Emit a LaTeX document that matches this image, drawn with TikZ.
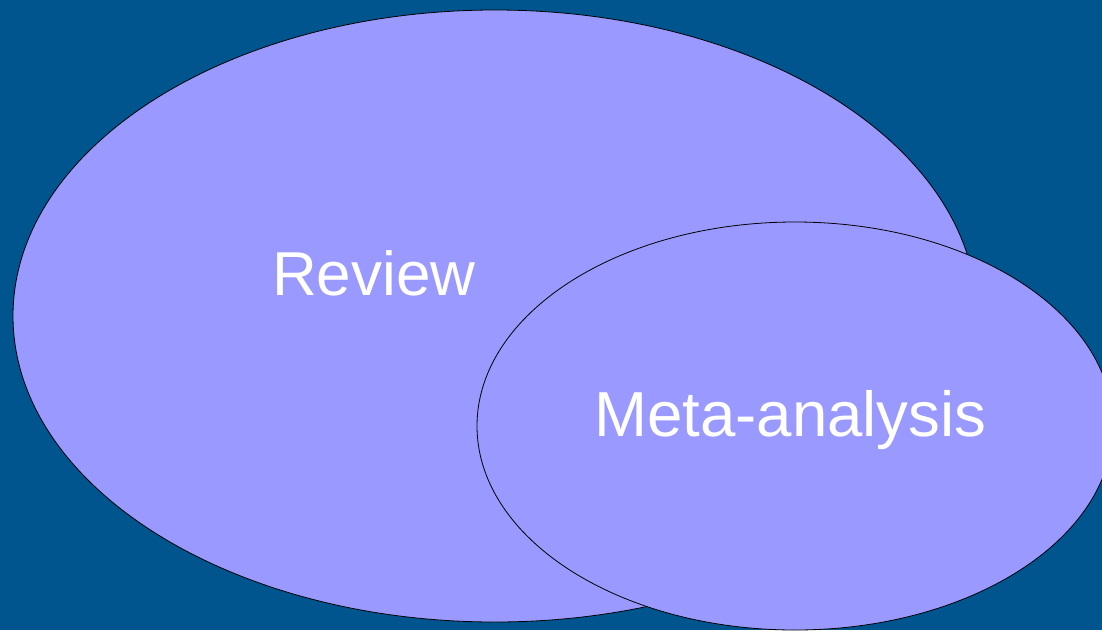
\documentclass[tikz,border=0pt]{standalone}
\usepackage{fontspec}
\setmainfont{Liberation Sans}
\definecolor{bgblue}{RGB}{0,85,143}
\definecolor{ellfill}{RGB}{153,153,255}
\begin{document}
\begin{tikzpicture}[x=1pt,y=-1pt,
  blob/.style={fill=ellfill,draw=black,line width=0.8pt},
  lbl/.style={text=white,font=\fontsize{62}{70}\selectfont,anchor=base west,inner sep=0pt}]
\fill[bgblue] (0,0) rectangle (1102,630);
\useasboundingbox (0,0) rectangle (1102,630);
\filldraw[blob] (495,316) ellipse [x radius=482, y radius=306];
\filldraw[blob] (795,426) ellipse [x radius=318, y radius=204];
\node[lbl] (review) at (272,295) {Review};
\node[lbl,font=\fontsize{63.6}{70}\selectfont] (meta) at (594,436) {Meta-analysis};
\end{tikzpicture}
\end{document}
